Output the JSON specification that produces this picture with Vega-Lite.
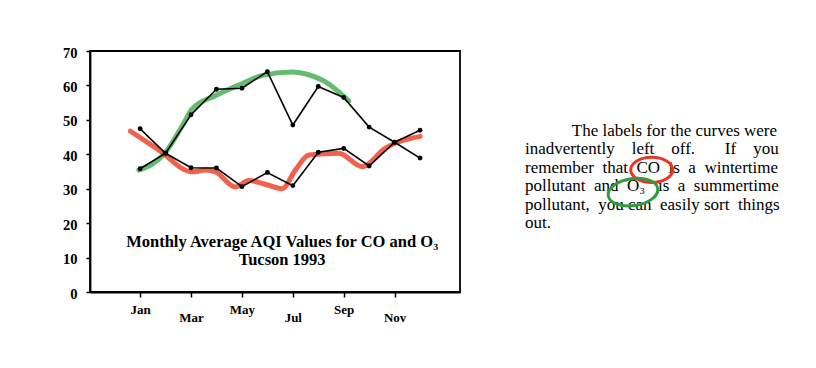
{
  "$schema": "https://vega.github.io/schema/vega-lite/v6.json",
  "background": "white",
  "padding": {"left": 61, "top": 44, "right": 0, "bottom": 0},
  "config": {
    "font": "Liberation Serif",
    "view": {"stroke": "black", "strokeWidth": 1.8},
    "concat": {"spacing": 62},
    "axisY": {
      "title": null, "grid": false,
      "labelFont": "Liberation Serif", "labelFontWeight": "bold", "labelFontSize": 14.5,
      "labelColor": "black", "labelPadding": 9, "labelOffset": 2,
      "labelOverlap": false, "labelBound": false,
      "tickSize": 4, "tickColor": "black", "tickWidth": 1.5,
      "domainColor": "black", "domainWidth": 1.8
    }
  },
  "datasets": {
    "aqi": [
      {"month": 1, "pollutant": "CO", "aqi": 47.4},
      {"month": 2, "pollutant": "CO", "aqi": 40.3},
      {"month": 3, "pollutant": "CO", "aqi": 36.1},
      {"month": 4, "pollutant": "CO", "aqi": 36.0},
      {"month": 5, "pollutant": "CO", "aqi": 30.6},
      {"month": 6, "pollutant": "CO", "aqi": 34.7},
      {"month": 7, "pollutant": "CO", "aqi": 30.9},
      {"month": 8, "pollutant": "CO", "aqi": 40.6},
      {"month": 9, "pollutant": "CO", "aqi": 41.7},
      {"month": 10, "pollutant": "CO", "aqi": 36.6},
      {"month": 11, "pollutant": "CO", "aqi": 43.5},
      {"month": 12, "pollutant": "CO", "aqi": 47.0},
      {"month": 1, "pollutant": "O3", "aqi": 35.8},
      {"month": 2, "pollutant": "O3", "aqi": 40.3},
      {"month": 3, "pollutant": "O3", "aqi": 51.5},
      {"month": 4, "pollutant": "O3", "aqi": 58.9},
      {"month": 5, "pollutant": "O3", "aqi": 59.2},
      {"month": 6, "pollutant": "O3", "aqi": 64.0},
      {"month": 7, "pollutant": "O3", "aqi": 48.5},
      {"month": 8, "pollutant": "O3", "aqi": 59.7},
      {"month": 9, "pollutant": "O3", "aqi": 56.5},
      {"month": 10, "pollutant": "O3", "aqi": 47.9},
      {"month": 11, "pollutant": "O3", "aqi": 43.5},
      {"month": 12, "pollutant": "O3", "aqi": 38.9}
    ],
    "highlight": [
      {"pollutant": "O3", "month": 0.95, "aqi": 35.4},
      {"pollutant": "O3", "month": 1.98, "aqi": 40.4},
      {"pollutant": "O3", "month": 2.65, "aqi": 48.2},
      {"pollutant": "O3", "month": 3.04, "aqi": 53.1},
      {"pollutant": "O3", "month": 3.95, "aqi": 57.0},
      {"pollutant": "O3", "month": 5.0, "aqi": 60.5},
      {"pollutant": "O3", "month": 5.79, "aqi": 62.9},
      {"pollutant": "O3", "month": 6.97, "aqi": 63.9},
      {"pollutant": "O3", "month": 7.48, "aqi": 63.4},
      {"pollutant": "O3", "month": 8.27, "aqi": 61.1},
      {"pollutant": "O3", "month": 9.2, "aqi": 55.5},
      {"pollutant": "CO", "month": 0.62, "aqi": 46.7},
      {"pollutant": "CO", "month": 1.73, "aqi": 41.3},
      {"pollutant": "CO", "month": 3.04, "aqi": 34.9},
      {"pollutant": "CO", "month": 3.57, "aqi": 35.4},
      {"pollutant": "CO", "month": 3.96, "aqi": 34.9},
      {"pollutant": "CO", "month": 4.74, "aqi": 30.5},
      {"pollutant": "CO", "month": 5.27, "aqi": 32.4},
      {"pollutant": "CO", "month": 5.92, "aqi": 31.3},
      {"pollutant": "CO", "month": 6.58, "aqi": 30.0},
      {"pollutant": "CO", "month": 7.1, "aqi": 35.4},
      {"pollutant": "CO", "month": 7.63, "aqi": 39.8},
      {"pollutant": "CO", "month": 8.81, "aqi": 40.3},
      {"pollutant": "CO", "month": 9.72, "aqi": 36.4},
      {"pollutant": "CO", "month": 10.64, "aqi": 41.8},
      {"pollutant": "CO", "month": 12.0, "aqi": 45.2}
    ],
    "paragraph": [
      {"line": 1, "text": "\u200b\u00a0\u00a0\u00a0\u00a0\u00a0\u00a0\u00a0\u00a0\u00a0\u00a0\u00a0The labels for the curves were"},
      {"line": 2, "text": "inadvertently\u00a0\u00a0\u00a0\u00a0left\u00a0\u00a0\u00a0\u00a0off.\u00a0\u00a0\u00a0\u00a0\u00a0\u00a0\u00a0If\u00a0\u00a0\u00a0\u00a0you"},
      {"line": 3, "text": "remember\u00a0\u00a0that\u00a0\u00a0CO\u00a0\u00a0is\u00a0\u00a0a\u00a0\u00a0wintertime"},
      {"line": 4, "text": "pollutant\u00a0\u00a0and\u00a0\u00a0O₃\u00a0\u00a0\u00a0is\u00a0\u00a0a\u00a0\u00a0summertime"},
      {"line": 5, "text": "pollutant,\u00a0\u00a0you\u00a0can\u00a0\u00a0easily\u00a0sort\u00a0\u00a0things"},
      {"line": 6, "text": "out."}
    ],
    "circled": [
      {"pollutant": "CO", "column": 128.7, "line": 2.84},
      {"pollutant": "O3", "column": 110, "line": 4.05}
    ]
  },
  "hconcat": [
    {
      "width": 370,
      "height": 241,
      "layer": [
        {
          "data": {"name": "highlight"},
          "mark": {"type": "line", "strokeWidth": 5, "opacity": 0.8, "interpolate": "monotone", "strokeCap": "round"},
          "encoding": {
            "x": {
              "field": "month", "type": "quantitative",
              "scale": {"domain": [-0.97, 13.57], "nice": false, "zero": false},
              "axis": {
                "title": null, "grid": false,
                "values": [1, 2, 3, 4, 5, 6, 7, 8, 9, 10, 11, 12],
                "labelExpr": "datum.value % 2 == 0 ? '' : (datum.value % 4 == 1 ? ['Jan','Feb','Mar','Apr','May','Jun','Jul','Aug','Sep','Oct','Nov','Dec'][datum.value - 1] : ['', ['Jan','Feb','Mar','Apr','May','Jun','Jul','Aug','Sep','Oct','Nov','Dec'][datum.value - 1]])",
                "labelLineHeight": 8,
                "labelFont": "Liberation Serif", "labelFontWeight": "bold", "labelFontSize": 13,
                "labelColor": "black", "labelPadding": 6, "labelFlush": false, "labelOverlap": false,
                "tickSize": 5, "tickColor": "black", "tickWidth": 1.5,
                "domainColor": "black", "domainWidth": 1.8
              }
            },
            "y": {"field": "aqi", "type": "quantitative", "scale": {"domain": [0, 70], "nice": false}},
            "color": {"field": "pollutant", "type": "nominal", "scale": {"domain": ["CO", "O3"], "range": ["#ef3a22", "#3eab4c"]}, "legend": null}
          }
        },
        {
          "data": {"name": "aqi"},
          "mark": {"type": "line", "color": "black", "strokeWidth": 1.6},
          "encoding": {
            "x": {"field": "month", "type": "quantitative", "scale": {"domain": [-0.97, 13.57], "nice": false, "zero": false}},
            "y": {"field": "aqi", "type": "quantitative", "scale": {"domain": [0, 70], "nice": false}},
            "detail": {"field": "pollutant", "type": "nominal"}
          }
        },
        {
          "data": {"name": "aqi"},
          "mark": {"type": "circle", "color": "black", "opacity": 1, "size": 24},
          "encoding": {
            "x": {"field": "month", "type": "quantitative", "scale": {"domain": [-0.97, 13.57], "nice": false, "zero": false}},
            "y": {"field": "aqi", "type": "quantitative", "scale": {"domain": [0, 70], "nice": false}}
          }
        },
        {
          "data": {"values": [{}]},
          "mark": {"type": "text", "font": "Liberation Serif", "fontWeight": "bold", "fontSize": 16.5, "align": "center", "baseline": "alphabetic", "lineHeight": 18, "color": "black"},
          "encoding": {
            "x": {"datum": 6.58, "type": "quantitative", "scale": {"domain": [-0.97, 13.57], "nice": false, "zero": false}},
            "y": {"datum": 13.1, "type": "quantitative", "scale": {"domain": [0, 70], "nice": false}},
            "text": {"value": ["Monthly Average AQI Values for CO and O₃", "Tucson 1993"]}
          }
        }
      ]
    },
    {
      "width": 270,
      "height": 241,
      "view": {"stroke": null},
      "layer": [
        {
          "data": {"name": "paragraph"},
          "mark": {"type": "text", "font": "Liberation Serif", "fontSize": 17, "align": "left", "baseline": "alphabetic", "color": "black"},
          "encoding": {
            "x": {"datum": 2, "type": "quantitative", "scale": {"domain": [0, 270], "nice": false, "zero": false}, "axis": null},
            "y": {"field": "line", "type": "quantitative", "scale": {"domain": [-3.62, 9.48], "nice": false, "zero": false, "reverse": true}, "axis": null},
            "text": {"field": "text"}
          }
        },
        {
          "data": {"name": "circled"},
          "transform": [{"filter": "datum.pollutant == 'CO'"}],
          "mark": {"type": "point", "shape": "M-1,0A1,0.6,0,1,0,1,0A1,0.6,0,1,0,-1,0Z", "size": 1764, "filled": false, "stroke": "#ec3325", "strokeWidth": 3, "opacity": 1},
          "encoding": {
            "x": {"field": "column", "type": "quantitative", "scale": {"domain": [0, 270], "nice": false, "zero": false}, "axis": null},
            "y": {"field": "line", "type": "quantitative", "scale": {"domain": [-3.62, 9.48], "nice": false, "zero": false, "reverse": true}, "axis": null}
          }
        },
        {
          "data": {"name": "circled"},
          "transform": [{"filter": "datum.pollutant == 'O3'"}],
          "mark": {"type": "point", "shape": "M-1,0A1,0.54,0,1,0,1,0A1,0.54,0,1,0,-1,0Z", "size": 2500, "filled": false, "stroke": "#2f9c40", "strokeWidth": 3, "opacity": 1, "angle": -8},
          "encoding": {
            "x": {"field": "column", "type": "quantitative", "scale": {"domain": [0, 270], "nice": false, "zero": false}, "axis": null},
            "y": {"field": "line", "type": "quantitative", "scale": {"domain": [-3.62, 9.48], "nice": false, "zero": false, "reverse": true}, "axis": null}
          }
        }
      ]
    }
  ]
}
